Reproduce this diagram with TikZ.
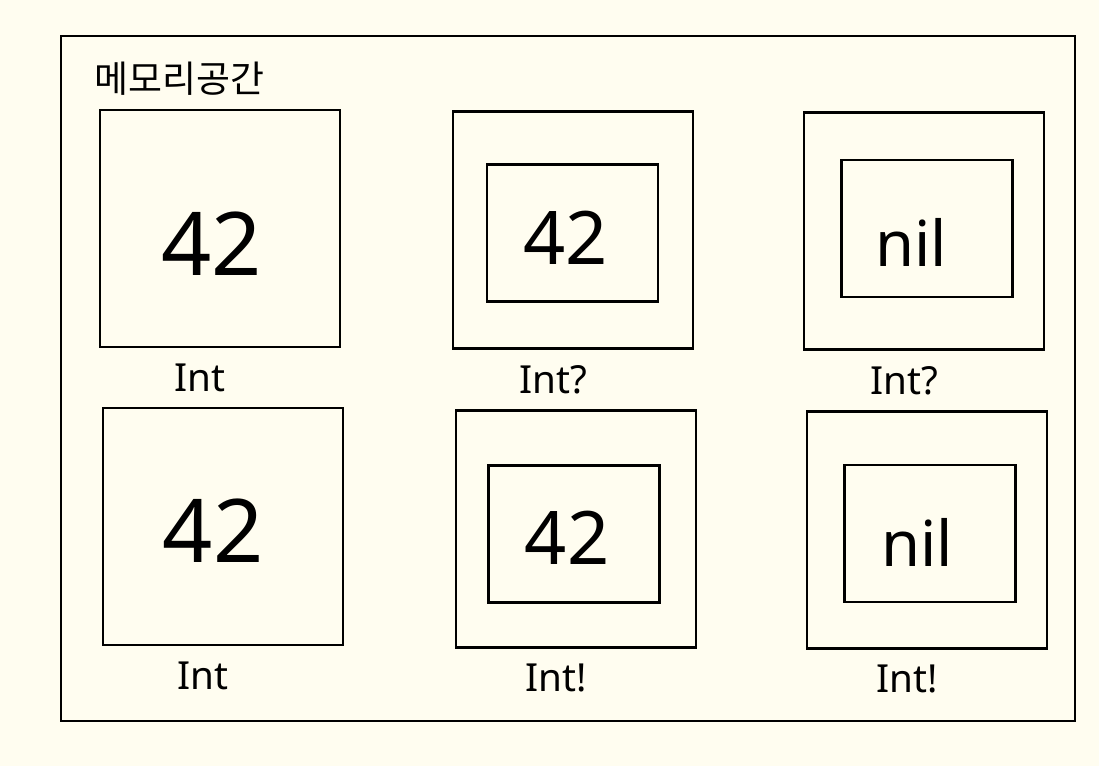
\documentclass[tikz,border=0pt]{standalone}
\usepackage{fontspec}
\setmainfont{Noto Sans}
\newfontfamily\kor{Noto Sans CJK KR}
\usepackage{xcolor}
\usepackage{tikz}
\usetikzlibrary{positioning}
\definecolor{paper}{HTML}{FFFDF0}

\begin{document}
\begin{tikzpicture}[%
          box/.style={draw, line width=0.65pt, inner sep=0pt},
          outerbox/.style={box, minimum width=2.40cm, minimum height=2.37cm},
          innerbox/.style={box, minimum width=1.71cm, minimum height=1.37cm},
          value/.style={inner sep=0pt, font=\fontsize{25}{27}\selectfont},
          smallvalue/.style={inner sep=0pt, font=\fontsize{21}{23}\selectfont},
          nilvalue/.style={inner sep=0pt, font=\fontsize{18}{20}\selectfont},
          typename/.style={
              font=\fontsize{11}{13}\selectfont,
              inner sep=0pt,
              below=0.15 of #1,
              xshift=-0.2cm
            }
        ]

        % 배경
        \fill[paper] (0,0) rectangle (10.99,-7.66);
        \useasboundingbox (0,0) rectangle (10.99,-7.66);

        % 메모리 공간 테두리
        \draw[line width=0.75pt] (0.61,-0.36) rectangle (10.75,-7.21);
        \node[font=\kor\fontsize{10.5}{12}\selectfont, inner sep=0pt, anchor=west]
          (title) at (0.94,-0.79) {메모리공간};

        % 윗줄: Int, Int?, Int?
        \node[outerbox] (int_a) at (2.20,-2.285) {};
        \node[value] (int_a_val) at ([xshift=-0.08cm,yshift=-0.15cm]int_a.center) {42};
        \node[typename=int_a] (int_a_type) {Int};

        \node[outerbox] (opt_a) at (5.73,-2.30) {};
        \node[innerbox] (opt_a_in) at (5.725,-2.33) {};
        \node[smallvalue] (opt_a_val) at ([xshift=-0.07cm,yshift=-0.05cm]opt_a_in.center) {42};
        \node[typename=opt_a] (opt_a_type) {Int?};

        \node[outerbox] (opt_b) at (9.24,-2.31) {};
        \node[innerbox] (opt_b_in) at (9.27,-2.285) {};
        \node[nilvalue] (opt_b_val) at ([xshift=-0.16cm,yshift=-0.14cm]opt_b_in.center) {nil};
        \node[typename=opt_b] (opt_b_type) {Int?};

        % 아랫줄: Int, Int!, Int!
        \node[outerbox] (int_b) at (2.23,-5.265) {};
        \node[value] (int_b_val) at ([xshift=-0.10cm,yshift=-0.04cm]int_b.center) {42};
        \node[typename=int_b] (int_b_type) {Int};

        \node[outerbox] (iuo_a) at (5.76,-5.29) {};
        \node[innerbox] (iuo_a_in) at (5.74,-5.34) {};
        \node[smallvalue] (iuo_a_val) at ([xshift=-0.07cm,yshift=-0.04cm]iuo_a_in.center) {42};
        \node[typename=iuo_a] (iuo_a_type) {Int!};

        \node[outerbox] (iuo_b) at (9.27,-5.30) {};
        \node[innerbox] (iuo_b_in) at (9.30,-5.335) {};
        \node[nilvalue] (iuo_b_val) at ([xshift=-0.13cm,yshift=-0.09cm]iuo_b_in.center) {nil};
        \node[typename=iuo_b] (iuo_b_type) {Int!};
      \end{tikzpicture}
\end{document}
